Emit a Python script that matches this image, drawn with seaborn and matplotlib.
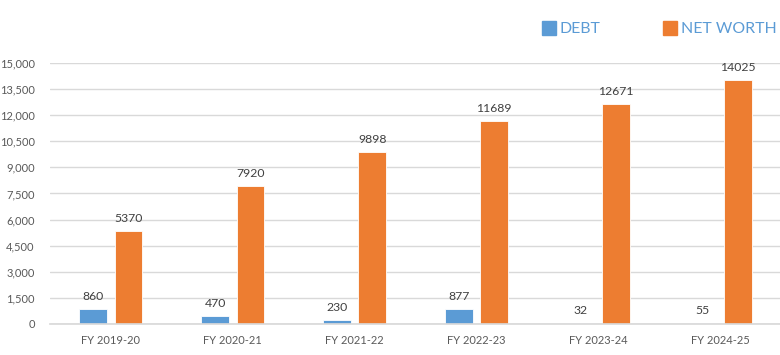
import matplotlib
matplotlib.use("Agg")
import matplotlib.pyplot as plt
import seaborn as sns
import pandas as pd
from matplotlib.ticker import FuncFormatter, MultipleLocator
from matplotlib.lines import Line2D

years = ["FY 2019-20", "FY 2020-21", "FY 2021-22", "FY 2022-23", "FY 2023-24", "FY 2024-25"]
debt = [860, 470, 230, 877, 32, 55]
net_worth = [5370, 7920, 9898, 11689, 12671, 14025]
series_names = ["DEBT", "NET WORTH"]
colors = ["#5B9BD5", "#ED7D31"]

df = pd.DataFrame({
    "year": years * 2,
    "value": debt + net_worth,
    "series": [series_names[0]] * len(years) + [series_names[1]] * len(years),
})

sns.set_theme(style="white")
plt.rcParams["font.family"] = ["Lato", "DejaVu Sans"]

fig = plt.figure(figsize=(7.8, 3.55), dpi=100)
ax = fig.add_axes([50 / 780, 1 - 324 / 355, 731 / 780, (324 - 63) / 355])

sns.barplot(data=df, x="year", y="value", hue="series", palette=colors,
            width=0.58, gap=0.22, ax=ax, legend=False, saturation=1,
            edgecolor="white", linewidth=0.6)

for c in ax.containers:
    ax.bar_label(c, labels=[f"{int(v)}" for v in c.datavalues], padding=5,
                 fontsize=8.8, color="#404040")

ax.set_ylim(0, 15000)
ax.yaxis.set_major_locator(MultipleLocator(1500))
ax.yaxis.set_major_formatter(FuncFormatter(lambda v, p: f"{int(v):,}"))
ax.set_xlim(-0.5, 5.5)
ax.grid(axis="y", color="#D9D9D9", linewidth=1)
ax.set_axisbelow(True)
for s in ["top", "right", "left"]:
    ax.spines[s].set_visible(False)
ax.spines["bottom"].set_color("#D9D9D9")
ax.tick_params(axis="both", length=0, labelsize=8, labelcolor="#595959")
ax.tick_params(axis="y", pad=11)
ax.tick_params(axis="x", pad=8)
ax.set_xlabel("")
ax.set_ylabel("")

handles = [Line2D([], [], marker="s", linestyle="none", markersize=10,
                  markerfacecolor=c, markeredgecolor=c) for c in colors]
leg = fig.legend(handles, series_names, loc="center right", bbox_to_anchor=(777 / 780, 1 - 29 / 355),
                 ncol=2, frameon=False, fontsize=11.4, handlelength=0.8, handletextpad=0.3,
                 columnspacing=4.0, borderaxespad=0, borderpad=0)
for t in leg.get_texts():
    t.set_color("#5B9BD5")

fig.savefig("out.png", dpi=100)
